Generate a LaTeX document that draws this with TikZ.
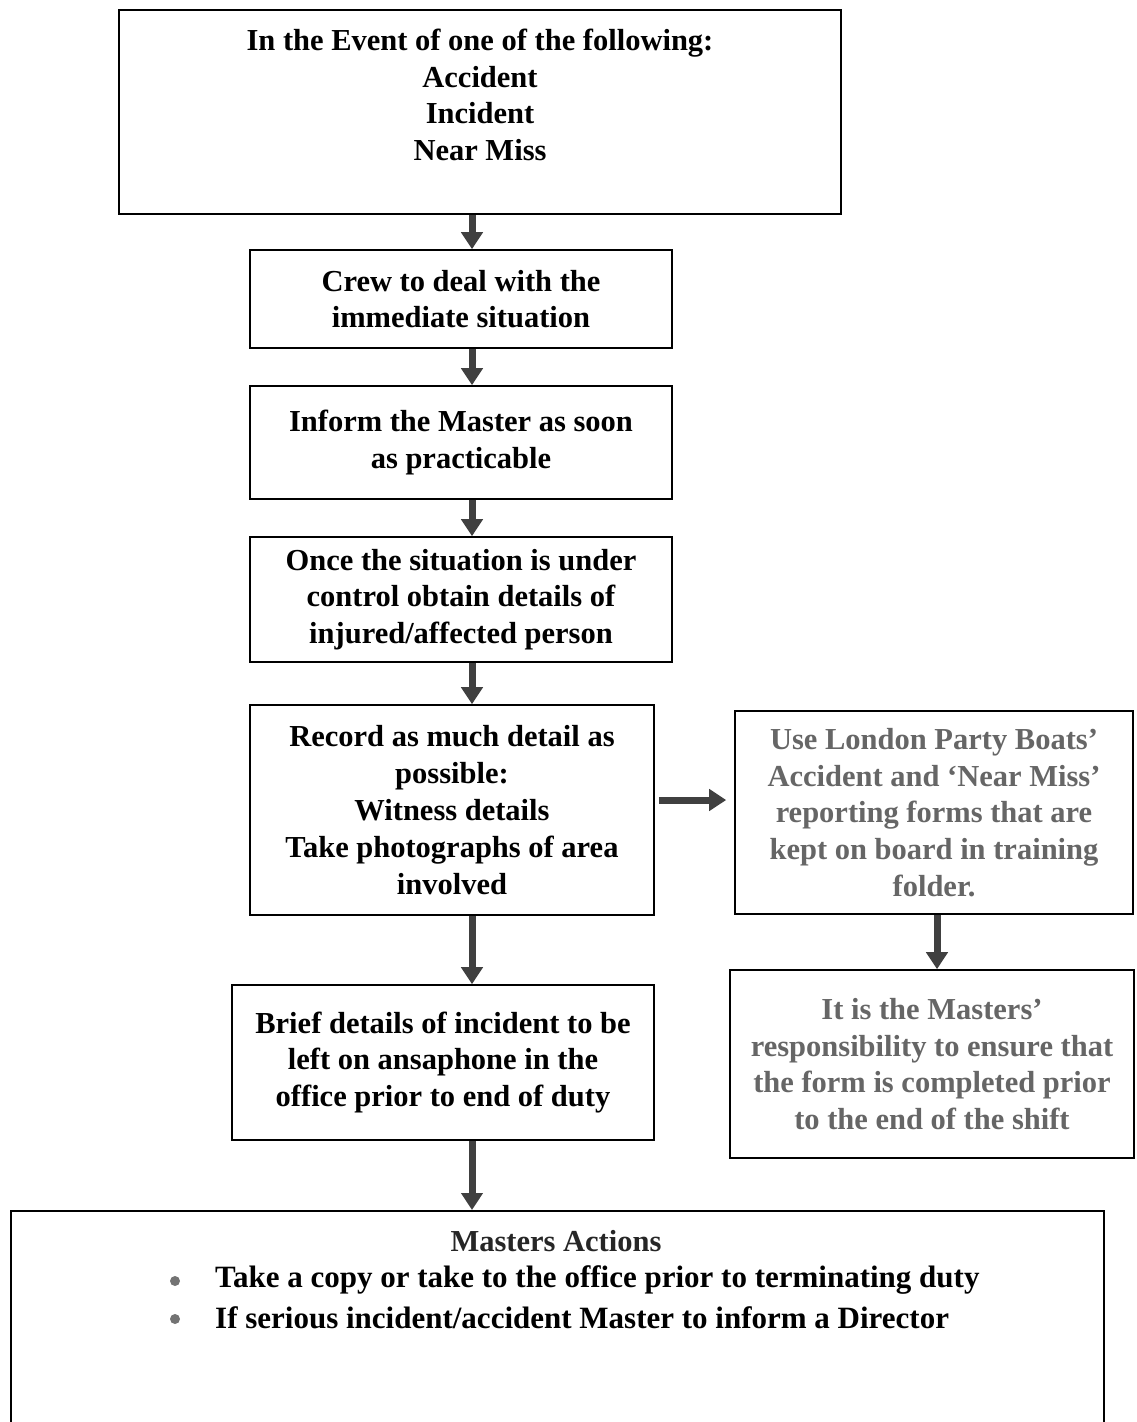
\documentclass[tikz,border=0pt]{standalone}
\usepackage{fontspec}
\setmainfont{Liberation Serif}
\usetikzlibrary{arrows.meta}
\tikzset{
  box/.style={draw, line width=1.6pt, align=center, inner sep=0pt,
    font=\bfseries\fontsize{30.5}{36.8}\selectfont},
  greybox/.style={box, text=black!60},
  flow/.style={draw=black!75, line width=7pt, -{Triangle[length=17pt,width=21pt]}},
  itemtext/.style={anchor=west, inner sep=0pt, font=\bfseries\fontsize{31}{37}\selectfont},
  dot/.style={circle, fill=black!55, inner sep=0pt, minimum size=10pt},
}
\begin{document}
\begin{tikzpicture}[x=1pt,y=-1pt]
  \useasboundingbox (0,0) rectangle (1136,1422);
  \clip (0,0) rectangle (1136,1422);
  % Kaesten links
  \node[box, minimum width=722pt, minimum height=204pt] (event) at (480,112) {};
  \node[align=center, font=\bfseries\fontsize{30.5}{36.8}\selectfont] (eventtext) at (480,95)
    {In the Event of one of the following:\\Accident\\Incident\\Near Miss};
  \node[box, minimum width=422pt, minimum height=98pt] (crew) at (461,299)
    {Crew to deal with the\\immediate situation};
  \node[box, minimum width=422pt, minimum height=113pt] (inform) at (461,442.5)
    {Inform the Master as soon\\as practicable};
  \node[box, minimum width=422pt, minimum height=125pt] (control) at (461,599.5)
    {Once the situation is under\\control obtain details of\\injured/affected person};
  \node[box, minimum width=404pt, minimum height=210pt] (record) at (452,810)
    {Record as much detail as\\possible:\\Witness details\\Take photographs of area\\involved};
  \node[box, minimum width=422pt, minimum height=155pt] (brief) at (443,1062.5)
    {Brief details of incident to be\\left on ansaphone in the\\office prior to end of duty};
  % Kaesten rechts
  \node[greybox, minimum width=398pt, minimum height=203pt] (forms) at (934,812.5)
    {Use London Party Boats'\\Accident and `Near Miss'\\reporting forms that are\\kept on board in training\\folder.};
  \node[greybox, minimum width=404pt, minimum height=188pt] (shift) at (932,1064)
    {It is the Masters'\\responsibility to ensure that\\the form is completed prior\\to the end of the shift};
  % Masters Actions
  \node[box, anchor=north west, minimum width=1093pt, minimum height=260pt] (actions) at (10,1210) {};
  \node[inner sep=0pt, text=black!85, font=\bfseries\fontsize{30.5}{36.8}\selectfont] (acttitle) at (556,1241) {Masters Actions};
  \node[dot] (dot1) at (175,1281) {};
  \node[itemtext] (item1) at (215,1280) {Take a copy or take to the office prior to terminating duty};
  \node[dot] (dot2) at (175,1319) {};
  \node[itemtext] (item2) at (215,1318) {If serious incident/accident Master to inform a Director};
  % Pfeile
  \coordinate (colx) at (472,0);
  \coordinate (rcolx) at (937,0);
  \draw[flow] (event.south -| colx) -- (crew.north -| colx);
  \draw[flow] (crew.south -| colx) -- (inform.north -| colx);
  \draw[flow] (inform.south -| colx) -- (control.north -| colx);
  \draw[flow] (control.south -| colx) -- (record.north -| colx);
  \draw[flow] (record.south -| colx) -- (brief.north -| colx);
  \draw[flow] (brief.south -| colx) -- (actions.north -| colx);
  \draw[flow] ([xshift=4pt]record.east |- 0,800) -- ([xshift=-8pt]forms.west |- 0,800);
  \draw[flow] (forms.south -| rcolx) -- (shift.north -| rcolx);
\end{tikzpicture}
\end{document}
